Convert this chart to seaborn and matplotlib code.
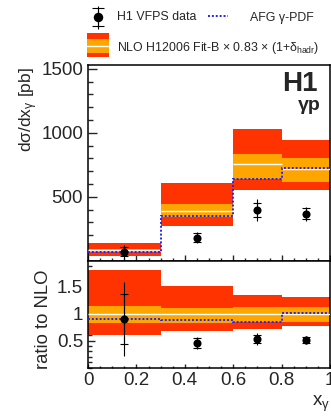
import numpy as np
import matplotlib
matplotlib.use("Agg")
import matplotlib.pyplot as plt
import seaborn as sns
from matplotlib.ticker import MultipleLocator, FixedLocator, FuncFormatter
from matplotlib.patches import Rectangle

# ---------------- data ----------------
edges = [0.0, 0.3, 0.6, 0.8, 1.0]
x_centers = [0.15, 0.45, 0.70, 0.90]

data_xs = [70, 180, 396, 367]
data_stat = [37, 35, 57, 42]
data_tot = [54, 45, 85, 55]

nlo_central = [80, 392, 753, 720]
nlo_scale_lo = [66, 345, 640, 617]
nlo_scale_hi = [94, 443, 834, 805]
nlo_tot_lo = [39, 273, 552, 552]
nlo_tot_hi = [135, 606, 1029, 943]
afg_xs = [70, 346, 641, 727]

ratio_data = [0.905, 0.458, 0.53, 0.514]
ratio_stat = [0.47, 0.087, 0.076, 0.058]
ratio_tot = [0.69, 0.115, 0.113, 0.076]
ratio_central = [1.0, 1.0, 1.0, 1.0]
ratio_scale_lo = [0.835, 0.836, 0.845, 0.855]
ratio_scale_hi = [1.14, 1.11, 1.12, 1.12]
ratio_tot_lo = [0.60, 0.675, 0.725, 0.77]
ratio_tot_hi = [1.82, 1.525, 1.357, 1.32]
ratio_afg = [0.91, 0.88, 0.85, 1.01]

upper_yticks = [500, 1000, 1500]
lower_yticks = [0.5, 1.0, 1.5]
xticks = [0, 0.2, 0.4, 0.6, 0.8, 1.0]

# ---------------- style ----------------
sns.set_style("ticks")
plt.rcParams['font.family'] = ['Liberation Sans', 'DejaVu Sans']
plt.rcParams['mathtext.fontset'] = 'custom'
plt.rcParams['mathtext.rm'] = 'Liberation Sans'
plt.rcParams['mathtext.it'] = 'Liberation Sans'
plt.rcParams['mathtext.bf'] = 'Liberation Sans:bold'

RED = '#FF3300'
ORANGE = '#FFA500'
BLUE = '#2222FF'
TICK_FS = 13.5

W, H = 331, 416
fig = plt.figure(figsize=(W / 100, H / 100), dpi=100)

L = 88 / W
AW = 242 / W
up_bot = 1 - 260.7 / H
up_top = 1 - 65 / H
lo_bot = 1 - 367.5 / H
ax_u = fig.add_axes([L, up_bot, AW, up_top - up_bot])
ax_l = fig.add_axes([L, lo_bot, AW, up_bot - lo_bot])

fmt = FuncFormatter(lambda v, p: '%g' % v)


def draw_panel(ax, tot_lo, tot_hi, sc_lo, sc_hi, central, afg, dat, stat, tot):
    ax.stairs(tot_hi, edges, baseline=tot_lo, fill=True, color=RED, lw=0, zorder=1)
    ax.stairs(sc_hi, edges, baseline=sc_lo, fill=True, color=ORANGE, lw=0, zorder=2)
    ax.hlines(central, edges[:-1], edges[1:], color='white', lw=1.0, zorder=3)
    ax.stairs(afg, edges, baseline=None, color=BLUE, lw=1.4, ls=(0, (1, 1)), zorder=4)
    ax.errorbar(x_centers, dat, yerr=tot, fmt='none', ecolor='black', elinewidth=0.8,
                capsize=0, zorder=5)
    ax.errorbar(x_centers, dat, yerr=stat, fmt='none', ecolor='black', elinewidth=0.8,
                capsize=3.2, capthick=0.8, zorder=5)
    sns.scatterplot(x=x_centers, y=dat, ax=ax, color='black', s=34, edgecolor='black',
                    linewidth=0, zorder=6, legend=False)
    ax.set_xlim(0, 1.0)
    ax.xaxis.set_major_locator(FixedLocator(xticks))
    ax.xaxis.set_minor_locator(MultipleLocator(0.05))
    for s in ax.spines.values():
        s.set_linewidth(1.1)
        s.set_color('black')


draw_panel(ax_u, nlo_tot_lo, nlo_tot_hi, nlo_scale_lo, nlo_scale_hi, nlo_central,
           afg_xs, data_xs, data_stat, data_tot)
draw_panel(ax_l, ratio_tot_lo, ratio_tot_hi, ratio_scale_lo, ratio_scale_hi,
           ratio_central, ratio_afg, ratio_data, ratio_stat, ratio_tot)

# upper axis
ax_u.set_ylim(0, 1530)
ax_u.yaxis.set_major_locator(FixedLocator(upper_yticks))
ax_u.yaxis.set_minor_locator(MultipleLocator(100))
ax_u.yaxis.set_major_formatter(fmt)
ax_u.tick_params(axis='x', which='both', labelbottom=False, direction='in')
ax_u.tick_params(axis='x', which='major', length=4.2, width=1.0)
ax_u.tick_params(axis='x', which='minor', length=2.2, width=1.0)
ax_u.tick_params(axis='y', which='major', direction='in', length=6.5, width=1.0,
                 labelsize=TICK_FS, pad=3.5)
ax_u.tick_params(axis='y', which='minor', direction='in', length=3.4, width=1.0)
ax_u.set_ylabel(r'd$\sigma$/dx$_{\gamma}$ [pb]', fontsize=12.5, loc='top')
ax_u.yaxis.set_label_coords(-0.198, 0.99)
ax_u.text(0.95, 0.867, 'H1', transform=ax_u.transAxes, ha='right', va='baseline',
          fontsize=20, fontweight='bold')
ax_u.text(0.963, 0.770, 'γp', transform=ax_u.transAxes, ha='right', va='baseline',
          fontsize=14, fontweight='bold')

# lower axis
ax_l.set_ylim(0, 1.99)
ax_l.yaxis.set_major_locator(FixedLocator(lower_yticks))
ax_l.yaxis.set_minor_locator(MultipleLocator(0.1))
ax_l.yaxis.set_major_formatter(fmt)
ax_l.xaxis.set_major_formatter(fmt)
ax_l.tick_params(axis='x', which='major', direction='in', length=2.6, width=1.0,
                 labelsize=TICK_FS, pad=3.0)
ax_l.tick_params(axis='x', which='minor', direction='in', length=1.3, width=1.0)
ax_l.tick_params(axis='y', which='major', direction='in', length=5.2, width=1.0,
                 labelsize=TICK_FS, pad=3.5)
ax_l.tick_params(axis='y', which='minor', direction='in', length=3.0, width=1.0)
ax_l.set_ylabel('ratio to NLO', fontsize=13.3, loc='top')
ax_l.yaxis.set_label_coords(-0.15, 0.92)
ax_l.set_xlabel(r'x$_{\gamma}$', fontsize=13.5, loc='right')
ax_l.xaxis.set_label_coords(1.0, -0.245)

# ---------------- legend (top strip) ----------------
lax = fig.add_axes([0, 1 - 62 / H, 1, 62 / H])
lax.set_xlim(0, W)
lax.set_ylim(62, 0)
lax.axis('off')
LFS = 8.9
lax.errorbar([98], [17], yerr=[[11.5], [11.5]], fmt='none', ecolor='black',
             elinewidth=0.8, capsize=0)
lax.errorbar([98], [17], yerr=[[9], [9]], fmt='none', ecolor='black',
             elinewidth=0.8, capsize=4, capthick=0.8)
lax.plot([98], [17], 'o', color='black', ms=5.8)
lax.text(117, 17.5, 'H1 VFPS data', fontsize=LFS, va='center', ha='left')
lax.plot([208, 228], [15.5, 15.5], color=BLUE, lw=1.4, ls=(0, (1, 1)))
lax.text(250, 17.5, 'AFG γ-PDF', fontsize=LFS, va='center', ha='left')
lax.add_patch(Rectangle((87, 33), 22, 24, color=RED, lw=0))
lax.add_patch(Rectangle((87, 39), 22, 14, color=ORANGE, lw=0))
lax.plot([87, 109], [46, 46], color='white', lw=1.0)
lax.text(117, 48.5, r'NLO H12006 Fit-B $\times$ 0.83 $\times$ (1+$\delta_{\mathrm{hadr}}$)',
         fontsize=LFS, va='center', ha='left')

fig.savefig('out.png', dpi=100)
